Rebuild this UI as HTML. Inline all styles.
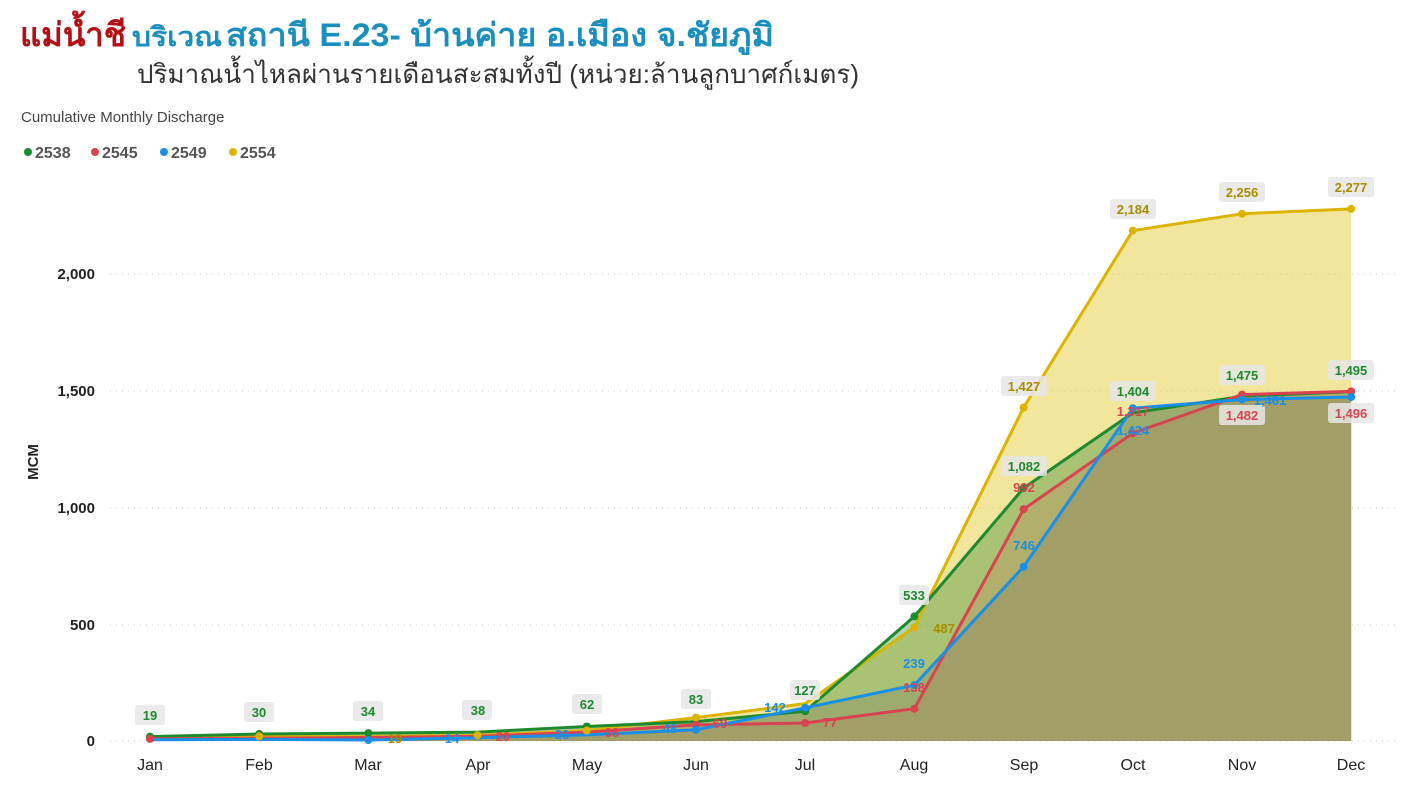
<!DOCTYPE html><html><head><meta charset="utf-8"><style>
body{margin:0;width:1407px;height:784px;background:#fff;overflow:hidden;font-family:"Liberation Sans","Noto Sans CJK SC",sans-serif}
</style></head><body>
<svg width="1407" height="784" xmlns="http://www.w3.org/2000/svg" font-family="Liberation Sans, Noto Sans CJK SC, sans-serif">
<text x="20" y="46" font-size="33" font-weight="bold" fill="#b30f14" textLength="106" lengthAdjust="spacingAndGlyphs">แม่น้ำชี</text>
<text x="132" y="46" font-size="27" font-weight="bold" fill="#1a8fbf" textLength="90" lengthAdjust="spacingAndGlyphs">บริเวณ</text>
<text x="226" y="46" font-size="32" font-weight="bold" fill="#1a8fbf" textLength="548" lengthAdjust="spacingAndGlyphs">สถานี E.23- บ้านค่าย อ.เมือง จ.ชัยภูมิ</text>
<text x="137" y="83" font-size="26" fill="#333" textLength="722" lengthAdjust="spacingAndGlyphs">ปริมาณน้ำไหลผ่านรายเดือนสะสมทั้งปี (หน่วย:ล้านลูกบาศก์เมตร)</text>
<text x="21" y="122" font-size="15" fill="#444">Cumulative Monthly Discharge</text>
<g font-size="16" font-weight="bold" fill="#555">
<circle cx="28" cy="152" r="4" fill="#1e8a2e"/><text x="35" y="158">2538</text>
<circle cx="95" cy="152" r="4" fill="#d9434f"/><text x="102" y="158">2545</text>
<circle cx="164" cy="152" r="4" fill="#1a8fe8"/><text x="171" y="158">2549</text>
<circle cx="233" cy="152" r="4" fill="#dcb400"/><text x="240" y="158">2554</text>
</g>
<g stroke="#ccc" stroke-dasharray="1,5" stroke-width="1">
<line x1="110" y1="741" x2="1395" y2="741"/><line x1="110" y1="625" x2="1395" y2="625"/><line x1="110" y1="508" x2="1395" y2="508"/><line x1="110" y1="391" x2="1395" y2="391"/><line x1="110" y1="274" x2="1395" y2="274"/>
</g>
<g font-size="15" font-weight="bold" fill="#222" text-anchor="end">
<text x="95" y="746">0</text><text x="95" y="630">500</text><text x="95" y="513">1,000</text><text x="95" y="396">1,500</text><text x="95" y="279">2,000</text>
</g>
<text transform="translate(38,462) rotate(-90)" font-size="15" font-weight="bold" fill="#222" text-anchor="middle">MCM</text>
<g font-size="16" fill="#222" text-anchor="middle">
<text x="150" y="770">Jan</text><text x="259" y="770">Feb</text><text x="368" y="770">Mar</text><text x="478" y="770">Apr</text><text x="587" y="770">May</text><text x="696" y="770">Jun</text><text x="805" y="770">Jul</text><text x="914" y="770">Aug</text><text x="1024" y="770">Sep</text><text x="1133" y="770">Oct</text><text x="1242" y="770">Nov</text><text x="1351" y="770">Dec</text>
</g>
<polygon fill="#e8cf4a" fill-opacity="0.55" points="150,741 150,737.5 259.2,736.3 368.4,736.6 477.6,735.2 586.8,730.5 696,717.6 805.2,703.6 914.4,627.2 1023.6,407.5 1132.8,230.6 1242,213.8 1351.2,208.9 1351.2,741"/>
<polygon fill="#3f8f3a" fill-opacity="0.4" points="150,741 150,736.6 259.2,734 368.4,733.1 477.6,732.1 586.8,726.5 696,721.6 805.2,711.3 914.4,616.4 1023.6,488.1 1132.8,412.9 1242,396.3 1351.2,391.6 1351.2,741"/>
<polygon fill="#c8805a" fill-opacity="0.3" points="150,741 150,738.9 259.2,738.2 368.4,737.5 477.6,736.3 586.8,732.1 696,724.9 805.2,723 914.4,708.7 1023.6,509.2 1132.8,433.2 1242,394.6 1351.2,391.4 1351.2,741"/>
<polygon fill="#7a7a60" fill-opacity="0.3" points="150,741 150,739.8 259.2,739.4 368.4,740 477.6,737.7 586.8,734.9 696,729.8 805.2,707.8 914.4,685.1 1023.6,566.7 1132.8,408.2 1242,399.6 1351.2,397 1351.2,741"/>
<g fill="none" stroke-width="3" stroke-linejoin="round">
<polyline stroke="#dcb400" points="150,737.5 259.2,736.3 368.4,736.6 477.6,735.2 586.8,730.5 696,717.6 805.2,703.6 914.4,627.2 1023.6,407.5 1132.8,230.6 1242,213.8 1351.2,208.9"/>
<polyline stroke="#1e8a2e" points="150,736.6 259.2,734 368.4,733.1 477.6,732.1 586.8,726.5 696,721.6 805.2,711.3 914.4,616.4 1023.6,488.1 1132.8,412.9 1242,396.3 1351.2,391.6"/>
<polyline stroke="#d9434f" points="150,738.9 259.2,738.2 368.4,737.5 477.6,736.3 586.8,732.1 696,724.9 805.2,723 914.4,708.7 1023.6,509.2 1132.8,433.2 1242,394.6 1351.2,391.4"/>
<polyline stroke="#1a8fe8" points="150,739.8 259.2,739.4 368.4,740 477.6,737.7 586.8,734.9 696,729.8 805.2,707.8 914.4,685.1 1023.6,566.7 1132.8,408.2 1242,399.6 1351.2,397"/>
</g>
<g fill="#1e8a2e"><circle cx="914.4" cy="616.4" r="4"/><circle cx="1023.6" cy="488.1" r="4"/><circle cx="805.2" cy="711.3" r="4"/><circle cx="586.8" cy="726.5" r="4"/><circle cx="259.2" cy="734" r="4"/><circle cx="150" cy="736.6" r="4"/><circle cx="368.4" cy="733.1" r="4"/></g>
<g fill="#dcb400"><circle cx="1023.6" cy="407.5" r="4"/><circle cx="1132.8" cy="230.6" r="4"/><circle cx="1242" cy="213.8" r="4"/><circle cx="1351.2" cy="208.9" r="4"/><circle cx="914.4" cy="627.2" r="4"/><circle cx="696" cy="717.6" r="4"/><circle cx="586.8" cy="730.5" r="4"/><circle cx="477.6" cy="735.2" r="4"/><circle cx="259.2" cy="736.3" r="4"/></g>
<g fill="#d9434f"><circle cx="1023.6" cy="509.2" r="4"/><circle cx="1132.8" cy="433.2" r="4"/><circle cx="1242" cy="394.6" r="4"/><circle cx="1351.2" cy="391.4" r="4"/><circle cx="914.4" cy="708.7" r="4"/><circle cx="805.2" cy="723" r="4"/><circle cx="696" cy="724.9" r="4"/><circle cx="150" cy="738.9" r="4"/></g>
<g fill="#1a8fe8"><circle cx="1023.6" cy="566.7" r="4"/><circle cx="1132.8" cy="408.2" r="4"/><circle cx="1242" cy="399.6" r="4"/><circle cx="1351.2" cy="397" r="4"/><circle cx="914.4" cy="685.1" r="4"/><circle cx="696" cy="729.8" r="4"/><circle cx="368.4" cy="740" r="4"/><circle cx="805.2" cy="707.8" r="4"/></g>
<g font-size="13" font-weight="bold" text-anchor="middle">
<g fill="#e6e6e6" fill-opacity="0.85">
<rect x="135" y="705" width="30" height="20" rx="3"/><rect x="244" y="702" width="30" height="20" rx="3"/><rect x="353" y="701" width="30" height="20" rx="3"/><rect x="462" y="700" width="30" height="20" rx="3"/><rect x="572" y="694" width="30" height="20" rx="3"/><rect x="681" y="689" width="30" height="20" rx="3"/><rect x="790" y="680" width="30" height="20" rx="3"/><rect x="899" y="585" width="30" height="20" rx="3"/>
<rect x="1001" y="456" width="46" height="20" rx="3"/><rect x="1110" y="381" width="46" height="20" rx="3"/><rect x="1219" y="365" width="46" height="20" rx="3"/><rect x="1328" y="360" width="46" height="20" rx="3"/>
<rect x="1001" y="376" width="46" height="20" rx="3"/><rect x="1110" y="199" width="46" height="20" rx="3"/><rect x="1219" y="182" width="46" height="20" rx="3"/><rect x="1328" y="177" width="46" height="20" rx="3"/>
<rect x="1219" y="405" width="46" height="20" rx="3"/><rect x="1328" y="403" width="46" height="20" rx="3"/>
</g>
<g fill="#1e8a2e"><text x="150" y="720">19</text><text x="259" y="717">30</text><text x="368" y="716">34</text><text x="478" y="715">38</text><text x="587" y="709">62</text><text x="696" y="704">83</text><text x="805" y="695">127</text><text x="914" y="600">533</text><text x="1024" y="471">1,082</text><text x="1133" y="396">1,404</text><text x="1242" y="380">1,475</text><text x="1351" y="375">1,495</text></g>
<g fill="#a88d00"><text x="1024" y="391">1,427</text><text x="1133" y="214">2,184</text><text x="1242" y="197">2,256</text><text x="1351" y="192">2,277</text><text x="944" y="633">487</text><text x="395" y="743">19</text></g>
<g fill="#d9434f"><text x="1024" y="492">992</text><text x="1133" y="416">1,317</text><text x="1242" y="420">1,482</text><text x="1351" y="418">1,496</text><text x="914" y="692">138</text><text x="830" y="727">77</text><text x="720" y="728">69</text><text x="612" y="737">38</text><text x="503" y="741">20</text></g>
<g fill="#1a8fe8"><text x="1024" y="550">746</text><text x="1133" y="435">1,424</text><text x="1270" y="405">1,461</text><text x="914" y="668">239</text><text x="775" y="712">142</text><text x="670" y="733">48</text><text x="562" y="739">26</text><text x="452" y="743">14</text></g>
</g>
</svg>
</body></html>
